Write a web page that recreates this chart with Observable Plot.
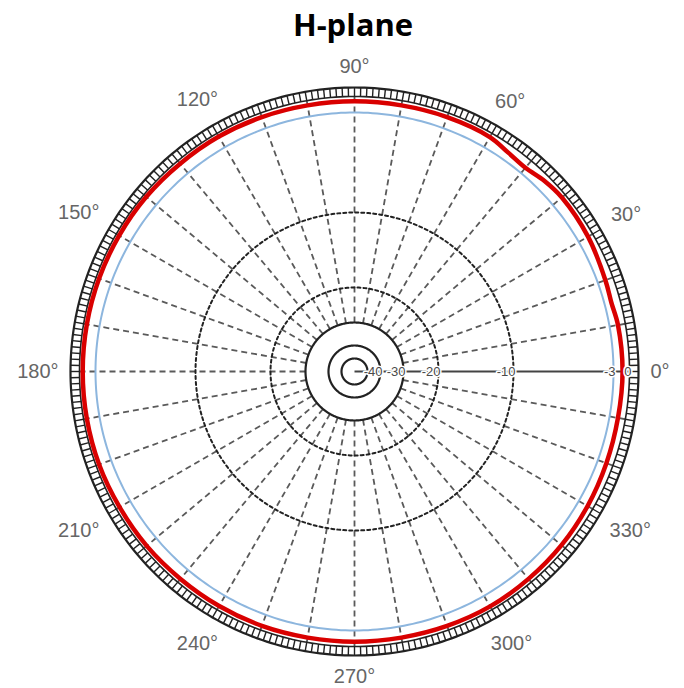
<!DOCTYPE html>
<html>
<head>
<meta charset="utf-8">
<script src="https://cdn.jsdelivr.net/npm/d3@7"></script>
<script src="https://cdn.jsdelivr.net/npm/@observablehq/plot@0.6"></script>
<style>
  html, body { margin: 0; padding: 0; background: #fff; }
  #title { width: 684px; height: 48px; line-height: 48px; text-align: center;
           font-family: "Open Sans", sans-serif; font-weight: 700; font-size: 31px; color: #000; padding-left: 22px; box-sizing: border-box; }
  #chart svg { display: block; }
</style>
</head>
<body>
<div id="title">H-plane</div>
<div id="chart"></div>
<script>
// ---- data ----
const angleLabels = [0, 30, 60, 90, 120, 150, 180, 210, 240, 270, 300, 330];
const radialLabels = [-40, -30, -20, -10, -3, 0];
const solidRings = [-50, -40, -30];
const dashedRings = [-20, -10];
const referenceRing = [-3];
const patternAngle = [0, 10, 15, 20, 30, 40, 45, 50, 55, 60, 70, 80, 90, 100, 110, 120, 130, 140, 150, 160,
                      170, 180, 190, 200, 210, 220, 230, 240, 250, 260, 270, 280, 290, 300, 310, 320, 330, 340, 350];
const patternGain = [-1.3, -1.4, -1.7, -1.5, -1.0, -0.8, -1.1, -1.7, -1.4, -0.8, -0.8, -0.9, -0.9, -0.9, -0.8, -0.7, -0.7, -0.6, -0.6, -0.6,
                     -0.6, -0.6, -0.6, -0.6, -0.7, -0.7, -0.8, -0.8, -0.8, -0.9, -0.9, -0.9, -0.8, -0.7, -0.8, -0.9, -1.1, -1.3, -1.4];

// ---- radial scale (dB -> normalized radius) ----
const rScale = d3.scaleLinear()
  .domain([-50, -40, -30, -20, -10, -3, 0])
  .range([13, 26, 49, 84, 159, 259, 275].map(v => v / 275));
const outerR = 284 / 275;

const rad = a => a * Math.PI / 180;
const X = (r, a) => r * Math.cos(rad(a));
const Y = (r, a) => r * Math.sin(rad(a));

// label radius: clear the ring by half the label's extent in that direction
const labelRadius = a => {
  const w = String(a).length * 11.1 + 8;
  return (296 + (w / 2) * Math.abs(Math.cos(rad(a))) + 9 * Math.abs(Math.sin(rad(a)))) / 275;
};

const circlePts = (vals, rf) => vals.flatMap(v => d3.range(0, 361, 1).map(a => ({v, a, r: rf(v)})));

const pattern = patternAngle.map((a, i) => ({a, r: rScale(patternGain[i])}));
const spokes = d3.range(10, 360, 10).map(a => ({a}));
const ringTicks = d3.range(0, 360, 1.25).map(a => ({a}));

const cx = 354, cy = 371 - 48, R0 = 275;

const chart = Plot.plot({
  width: 684,
  height: 640,
  margin: 0,
  style: {background: "#fff", fontFamily: "Liberation Sans, Arial, sans-serif"},
  x: {domain: [-1, 1], range: [cx - R0, cx + R0], axis: null},
  y: {domain: [-1, 1], range: [cy + R0, cy - R0], axis: null},
  marks: [
    // dashed spokes
    Plot.link(spokes, {x1: d => X(rScale(-30), d.a), y1: d => Y(rScale(-30), d.a),
                       x2: d => X(1, d.a), y2: d => Y(1, d.a),
                       stroke: "#5a5a5a", strokeWidth: 1.8, strokeDasharray: "6,4"}),
    // dashed rings
    Plot.line(circlePts(dashedRings, rScale), {x: d => X(d.r, d.a), y: d => Y(d.r, d.a), z: "v",
                       stroke: "#222", strokeWidth: 2, strokeDasharray: "3,3"}),
    // solid inner rings
    Plot.line(circlePts(solidRings, rScale), {x: d => X(d.r, d.a), y: d => Y(d.r, d.a), z: "v",
                       stroke: "#222", strokeWidth: 2.2}),
    // 0 deg axis
    Plot.link([{a: 0}], {x1: 0, y1: 0, x2: d => X(1, d.a), y2: d => Y(1, d.a), stroke: "#444", strokeWidth: 2}),
    // -3 dB reference
    Plot.line(circlePts(referenceRing, rScale), {x: d => X(d.r, d.a), y: d => Y(d.r, d.a), z: "v",
                       stroke: "#8db6de", strokeWidth: 2}),
    // tick ring
    Plot.link(ringTicks, {x1: d => X(1, d.a), y1: d => Y(1, d.a), x2: d => X(outerR, d.a), y2: d => Y(outerR, d.a),
                       stroke: "#222", strokeWidth: 1.4}),
    Plot.line(circlePts([0], v => 1), {x: d => X(d.r, d.a), y: d => Y(d.r, d.a), stroke: "#222", strokeWidth: 1.6}),
    Plot.line(circlePts([1], v => outerR), {x: d => X(d.r, d.a), y: d => Y(d.r, d.a), stroke: "#222", strokeWidth: 2.2}),
    // pattern
    Plot.line(pattern, {x: d => X(d.r, d.a), y: d => Y(d.r, d.a), curve: "catmull-rom-closed",
                       stroke: "#d90000", strokeWidth: 4.5}),
    // radial labels
    Plot.text(radialLabels, {x: d => rScale(d), y: 0, text: d => String(d), textAnchor: "end", dx: 2,
                       fill: "#4a4a4a", stroke: "#fff", strokeWidth: 3, fontSize: 13}),
    // angle labels
    Plot.text(angleLabels, {x: d => X(labelRadius(d), d), y: d => Y(labelRadius(d), d), text: d => d + "°",
                       fill: "#666", fontSize: 20, textAnchor: "middle"})
  ]
});
document.getElementById("chart").appendChild(chart);
</script>
</body>
</html>
